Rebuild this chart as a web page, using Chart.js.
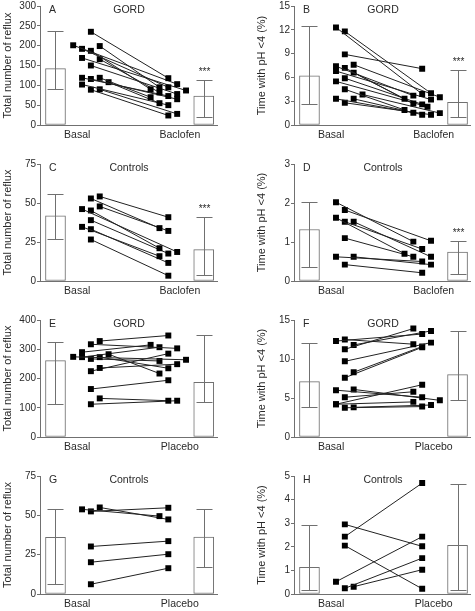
<!DOCTYPE html>
<html>
<head>
<meta charset="utf-8">
<script src="https://cdn.jsdelivr.net/npm/chart.js@4.4.1/dist/chart.umd.min.js"></script>
<style>
  html, body { margin: 0; padding: 0; background: #fff; overflow: hidden; }
  #fig { position: relative; width: 475px; height: 611px; }
  canvas { position: absolute; }
</style>
</head>
<body>
<div id="fig">
  <canvas id="panelA" width="237" height="144" style="left:0;top:-2px"></canvas>
  <canvas id="panelB" width="238" height="144" style="left:237px;top:-2px"></canvas>
  <canvas id="panelC" width="237" height="142" style="left:0;top:156px"></canvas>
  <canvas id="panelD" width="238" height="142" style="left:237px;top:156px"></canvas>
  <canvas id="panelE" width="237" height="142" style="left:0;top:312px"></canvas>
  <canvas id="panelF" width="238" height="142" style="left:237px;top:312px"></canvas>
  <canvas id="panelG" width="237" height="143" style="left:0;top:468px"></canvas>
  <canvas id="panelH" width="238" height="143" style="left:237px;top:468px"></canvas>
</div>
<script>
// A - GORD, number of reflux episodes
var aBasal = [235, 201, 199, 192, 187, 169, 166, 150, 119, 119, 116, 108, 102, 90, 89];
var aBasalSlot = [2, 0, 3, 1, 2, 1, 3, 2, 1, 3, 2, 4, 1, 3, 2];
var aAfter = [118, 103, 95, 95, 90, 87, 82, 78, 73, 70, 65, 55, 50, 28, 24];
var aAfterSlot = [2, 3, 1, 2, 0, 4, 1, 3, 2, 0, 3, 1, 2, 3, 2];
var aBars = [142, 73];
var aLow = [90, 20];
var aHigh = [236, 113];

// B - GORD, acid exposure time
var bBasal = [12.3, 11.8, 8.9, 7.6, 7.4, 7.2, 6.8, 6.6, 5.9, 5.5, 4.5, 3.85, 3.3, 3.3, 2.8];
var bBasalSlot = [1, 2, 2, 3, 1, 2, 1, 3, 2, 1, 2, 4, 1, 3, 2];
var bAfter = [3.9, 4.0, 7.1, 3.5, 3.7, 3.3, 3.2, 2.7, 2.6, 2.3, 1.9, 1.5, 1.55, 1.3, 1.3];
var bAfterSlot = [2, 3, 2, 4, 1, 0, 3, 1, 2, 2.6, 0, 4, 1, 2, 3];
var bBars = [6.2, 2.85];
var bLow = [2.7, 1.0];
var bHigh = [12.5, 6.9];

// C - controls, number of reflux episodes
var cBasal = [54.2, 52.9, 47.8, 46.1, 45.2, 39, 34.7, 33.2, 26.6];
var cBasalSlot = [3, 2, 3, 1, 2, 2, 1, 2, 2];
var cAfter = [40.9, 33.9, 32.1, 18.6, 21, 17.6, 15.9, 11.6, 3.4];
var cAfterSlot = [2, 1, 2, 3, 1, 2, 1, 2, 2];
var cBars = [41.8, 20.1];
var cLow = [26.8, 4.1];
var cHigh = [55.5, 41.1];

// D - controls, acid exposure time
var dBasal = [2.02, 1.82, 1.62, 1.52, 1.52, 1.1, 0.62, 0.62, 0.42];
var dBasalSlot = [1, 2, 1, 2, 3, 2, 1, 3, 2];
var dAfter = [1.01, 1.03, 0.70, 0.82, 0.62, 0.62, 0.50, 0.42, 0.21];
var dAfterSlot = [1, 3, 0, 2, 3, 1, 2, 3, 2];
var dBars = [1.32, 0.74];
var dLow = [0.36, 0.18];
var dHigh = [2.02, 1.03];

// E - GORD placebo, number of reflux episodes
var eBasal = [328, 317, 290, 283, 274, 273, 273, 267, 236, 225, 164, 132, 112];
var eBasalSlot = [3, 2, 1, 4, 0, 1, 3, 2, 3, 2, 2, 3, 2];
var eAfter = [347, 303, 315, 217, 264, 307, 235, 260, 249, 285, 194, 124, 124];
var eAfterSlot = [2, 3, 0, 1, 4, 1, 2, 1, 3, 2, 2, 2, 3];
var eBars = [261, 187];
var eLow = [112, 119];
var eHigh = [326, 350];

// F - GORD placebo, acid exposure time
var fBasal = [12.3, 12.5, 11.25, 11.8, 9.7, 8.3, 7.6, 6.0, 6.1, 5.1, 4.2, 4.2, 3.75, 3.8];
var fBasalSlot = [1, 2, 2, 3, 2, 3, 2, 1, 3, 2, 1, 1, 2, 3];
var fAfter = [13.2, 11.9, 13.9, 13.6, 12.1, 11.6, 11.5, 5.1, 4.7, 5.8, 6.7, 4.5, 3.9, 4.1];
var fAfterSlot = [2, 1, 1, 3, 3, 2, 2, 2, 4, 1, 2, 1, 2, 3];
var fBars = [7.1, 8.0];
var fLow = [3.9, 4.7];
var fHigh = [12.1, 13.6];

// G - controls placebo, number of reflux episodes
var gBasal = [53.8, 52.5, 55, 30.2, 20.2, 6.2];
var gBasalSlot = [1, 2, 3, 2, 2, 2];
var gAfter = [49.5, 54.8, 47.4, 33.6, 25.3, 16.4];
var gAfterSlot = [1, 2, 2, 2, 2, 2];
var gBars = [36, 36.2];
var gLow = [6.4, 17];
var gHigh = [53.8, 53.8];

// H - controls placebo, acid exposure time
var hBasal = [2.43, 2.95, 2.05, 0.52, 0.24, 0.31];
var hBasalSlot = [2, 2, 2, 1, 2, 3];
var hAfter = [4.7, 2.02, 0.22, 2.43, 1.52, 1.03];
var hAfterSlot = [2, 2, 2, 2, 2, 2];
var hBars = [1.13, 2.06];
var hLow = [0.17, 0.17];
var hHigh = [2.91, 4.66];

var baclofenLabels = ['Basal', 'Baclofen'];
var placeboLabels = ['Basal', 'Placebo'];
var refluxTitle = 'Total number of reflux';
var phTitle = 'Time with pH <4 (%)';

var axisColor = '#707070';
var inkColor = '#222';
var textColor = '#2a2a2a';
var fontFamily = "'Liberation Sans', Arial, sans-serif";

// x layout: slot columns for the paired points, bars on the outside
var basalStart = 3.75;
var afterStart = 12.5;
var barX = [1.75, 18.5];
var labelX = [4.2, 15.8];

var errorBars = {
    id: 'errorBars',
    afterDatasetsDraw(chart, args, opts) {
        var xs = chart.scales.x;
        var ys = chart.scales.y;
        var ctx = chart.ctx;
        var area = chart.chartArea;
        ctx.save();
        ctx.strokeStyle = axisColor;
        ctx.lineWidth = 1;
        for (var i = 0; i < barX.length; i++) {
            var px = Math.round(xs.getPixelForValue(barX[i])) + 0.5;
            var top = Math.round(ys.getPixelForValue(opts.high[i])) + 0.5;
            var bot = Math.round(ys.getPixelForValue(opts.low[i])) + 0.5;
            ctx.beginPath();
            ctx.moveTo(px, top);
            ctx.lineTo(px, bot);
            ctx.moveTo(px - 8, top);
            ctx.lineTo(px + 8, top);
            ctx.moveTo(px - 8, bot);
            ctx.lineTo(px + 8, bot);
            ctx.stroke();
            if (opts.stars && i == 1) {
                ctx.fillStyle = textColor;
                ctx.font = '10px ' + fontFamily;
                ctx.textAlign = 'center';
                ctx.textBaseline = 'middle';
                ctx.fillText('***', px, top - 8);
            }
        }
        ctx.fillStyle = textColor;
        ctx.font = '10.5px ' + fontFamily;
        ctx.textBaseline = 'middle';
        ctx.textAlign = 'left';
        ctx.fillText(opts.letter, area.left + 9, area.top + 4);
        ctx.textAlign = 'center';
        ctx.fillText(opts.group, area.left + 89, area.top + 4);
        ctx.restore();
    }
};

function makePanel(id, p) {
    var datasets = [];
    datasets.push({
        type: 'bar',
        data: barX.map(function (x, i) { return { x: x, y: p.bars[i] }; }),
        backgroundColor: '#fff',
        borderColor: axisColor,
        borderWidth: 1,
        borderSkipped: false,
        barThickness: 20,
        order: 10
    });
    for (var i = 0; i < p.basal.length; i++) {
        datasets.push({
            type: 'line',
            data: [
                { x: basalStart + p.basalSlot[i], y: p.basal[i] },
                { x: afterStart + p.afterSlot[i], y: p.after[i] }
            ],
            borderColor: inkColor,
            borderWidth: 1,
            pointStyle: 'rect',
            pointRadius: 4.2,
            pointBackgroundColor: '#000',
            pointBorderWidth: 0,
            order: 1
        });
    }

    new Chart(document.getElementById(id), {
        type: 'line',
        data: { datasets: datasets },
        plugins: [errorBars],
        options: {
            responsive: false,
            animation: false,
            events: [],
            layout: { padding: { left: p.padLeft, right: p.padRight, top: 8, bottom: 0 } },
            plugins: {
                legend: { display: false },
                tooltip: { enabled: false },
                errorBars: { low: p.low, high: p.high, stars: p.stars, letter: p.letter, group: p.group }
            },
            scales: {
                x: {
                    type: 'linear',
                    min: 0,
                    max: 20,
                    offset: false,
                    afterBuildTicks: function (s) { s.ticks = labelX.map(function (v) { return { value: v }; }); },
                    afterFit: function (s) { s.height = 17; },
                    ticks: {
                        autoSkip: false,
                        maxRotation: 0,
                        padding: 4,
                        color: textColor,
                        font: { family: fontFamily, size: 10.5 },
                        callback: function (v, idx) { return p.labels[idx]; }
                    },
                    grid: { drawOnChartArea: false, drawTicks: false, color: axisColor },
                    border: { color: axisColor }
                },
                y: {
                    min: 0,
                    max: p.yMax,
                    afterFit: function (s) { s.width = 40; },
                    ticks: {
                        stepSize: p.yStep,
                        padding: 1,
                        color: textColor,
                        font: { family: fontFamily, size: 10 }
                    },
                    grid: { drawOnChartArea: false, tickLength: 3, color: axisColor },
                    border: { color: axisColor },
                    title: {
                        display: true,
                        text: p.yTitle,
                        color: textColor,
                        padding: { top: 1, bottom: 0 },
                        font: { family: fontFamily, size: 11 }
                    }
                }
            }
        }
    });
}

makePanel('panelA', { basal: aBasal, basalSlot: aBasalSlot, after: aAfter, afterSlot: aAfterSlot, bars: aBars, low: aLow, high: aHigh,
    yMax: 300, yStep: 50, yTitle: refluxTitle, letter: 'A', group: 'GORD', stars: true, labels: baclofenLabels, padLeft: 0, padRight: 20 });
makePanel('panelB', { basal: bBasal, basalSlot: bBasalSlot, after: bAfter, afterSlot: bAfterSlot, bars: bBars, low: bLow, high: bHigh,
    yMax: 15, yStep: 3, yTitle: phTitle, letter: 'B', group: 'GORD', stars: true, labels: baclofenLabels, padLeft: 17, padRight: 4 });
makePanel('panelC', { basal: cBasal, basalSlot: cBasalSlot, after: cAfter, afterSlot: cAfterSlot, bars: cBars, low: cLow, high: cHigh,
    yMax: 75, yStep: 25, yTitle: refluxTitle, letter: 'C', group: 'Controls', stars: true, labels: baclofenLabels, padLeft: 0, padRight: 20 });
makePanel('panelD', { basal: dBasal, basalSlot: dBasalSlot, after: dAfter, afterSlot: dAfterSlot, bars: dBars, low: dLow, high: dHigh,
    yMax: 3, yStep: 1, yTitle: phTitle, letter: 'D', group: 'Controls', stars: true, labels: baclofenLabels, padLeft: 17, padRight: 4 });
makePanel('panelE', { basal: eBasal, basalSlot: eBasalSlot, after: eAfter, afterSlot: eAfterSlot, bars: eBars, low: eLow, high: eHigh,
    yMax: 400, yStep: 50, yTitle: refluxTitle, letter: 'E', group: 'GORD', stars: false, labels: placeboLabels, padLeft: 0, padRight: 20 });
makePanel('panelF', { basal: fBasal, basalSlot: fBasalSlot, after: fAfter, afterSlot: fAfterSlot, bars: fBars, low: fLow, high: fHigh,
    yMax: 15, yStep: 5, yTitle: phTitle, letter: 'F', group: 'GORD', stars: false, labels: placeboLabels, padLeft: 17, padRight: 4 });
makePanel('panelG', { basal: gBasal, basalSlot: gBasalSlot, after: gAfter, afterSlot: gAfterSlot, bars: gBars, low: gLow, high: gHigh,
    yMax: 75, yStep: 25, yTitle: refluxTitle, letter: 'G', group: 'Controls', stars: false, labels: placeboLabels, padLeft: 0, padRight: 20 });
makePanel('panelH', { basal: hBasal, basalSlot: hBasalSlot, after: hAfter, afterSlot: hAfterSlot, bars: hBars, low: hLow, high: hHigh,
    yMax: 5, yStep: 1, yTitle: phTitle, letter: 'H', group: 'Controls', stars: false, labels: placeboLabels, padLeft: 17, padRight: 4 });
</script>
</body>
</html>
